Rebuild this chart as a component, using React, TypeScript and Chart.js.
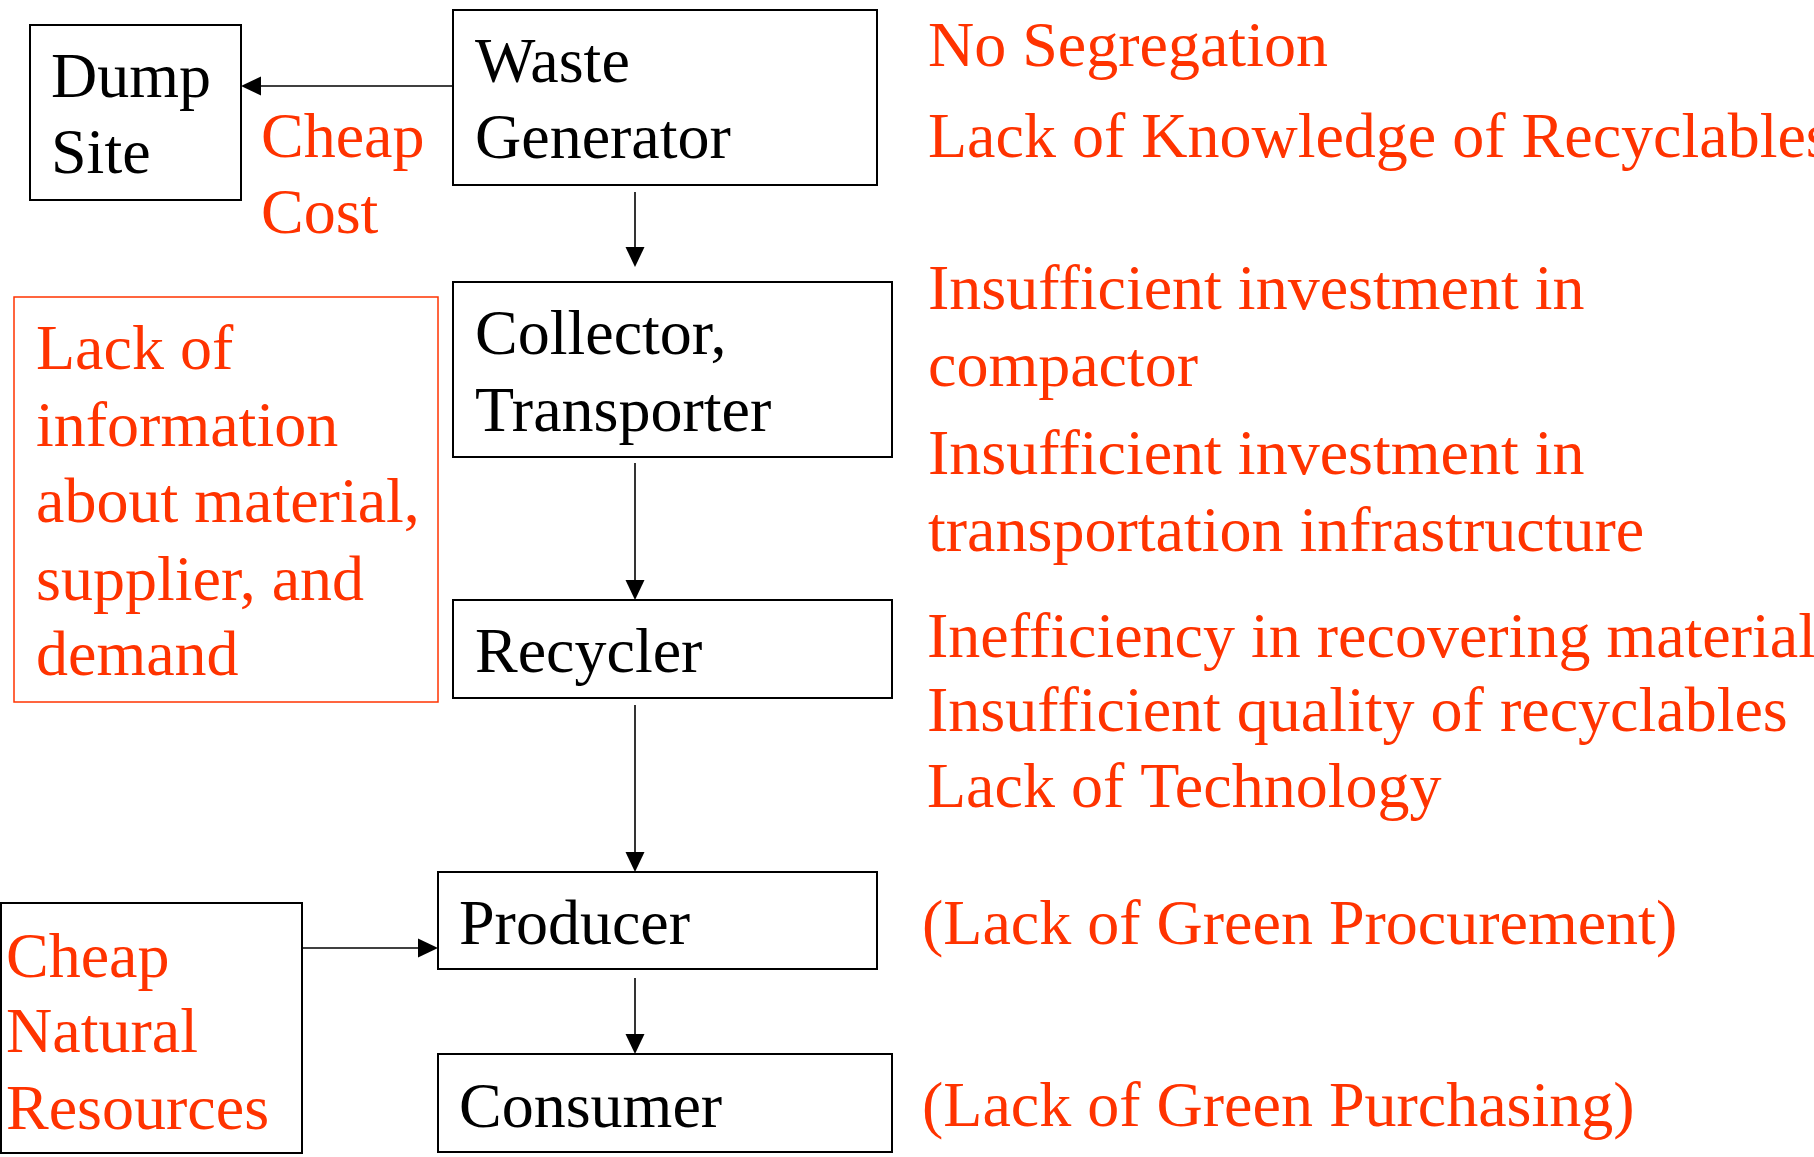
import React, { useEffect, useRef } from "react";
import { Chart, registerables } from "chart.js";

Chart.register(...registerables);

// ---- Content (text) ----
const nodeIds = ["dump", "waste", "collector", "recycler", "producer", "consumer", "info", "natural"];
const nodeLabels: string[][] = [
  ["Dump", "Site"],
  ["Waste", "Generator"],
  ["Collector,", "Transporter"],
  ["Recycler"],
  ["Producer"],
  ["Consumer"],
  ["Lack of", "information", "about material,", "supplier, and", "demand"],
  ["Cheap", "Natural", "Resources"],
];
const cheapCostLines = ["Cheap", "Cost"];
const wasteIssues = ["No Segregation", "Lack of Knowledge of Recyclables"];
const collectorIssues = ["Insufficient investment in", "compactor", "Insufficient investment in", "transportation infrastructure"];
const recyclerIssues = ["Inefficiency in recovering material", "Insufficient quality of recyclables", "Lack of Technology"];
const producerIssues = ["(Lack of Green Procurement)"];
const consumerIssues = ["(Lack of Green Purchasing)"];
const flows: [string, string][] = [
  ["waste", "dump"],
  ["waste", "collector"],
  ["collector", "recycler"],
  ["recycler", "producer"],
  ["natural", "producer"],
  ["producer", "consumer"],
];

// ---- Layout (diagram coordinate space, separate from content) ----
const W = 1814;
const H = 1157;
const BLACK = "#000000";
const RED = "#ff3300";
const FONT = "64px 'Liberation Serif', 'Times New Roman', serif";

const boxLayout: Record<string, { x0: number; y0: number; x1: number; y1: number; textX: number; baselines: number[]; boxColor: string; textColor: string; lw: number }> = {
  dump: { x0: 30, y0: 25, x1: 241, y1: 200, textX: 51, baselines: [97, 173], boxColor: BLACK, textColor: BLACK, lw: 2 },
  waste: { x0: 453, y0: 10, x1: 877, y1: 185, textX: 475, baselines: [82, 158], boxColor: BLACK, textColor: BLACK, lw: 2 },
  collector: { x0: 453, y0: 282, x1: 892, y1: 457, textX: 475, baselines: [354, 431], boxColor: BLACK, textColor: BLACK, lw: 2 },
  recycler: { x0: 453, y0: 600, x1: 892, y1: 698, textX: 475, baselines: [672], boxColor: BLACK, textColor: BLACK, lw: 2 },
  producer: { x0: 438, y0: 872, x1: 877, y1: 969, textX: 459, baselines: [944], boxColor: BLACK, textColor: BLACK, lw: 2 },
  consumer: { x0: 438, y0: 1054, x1: 892, y1: 1152, textX: 459, baselines: [1127], boxColor: BLACK, textColor: BLACK, lw: 2 },
  info: { x0: 14, y0: 297, x1: 438, y1: 702, textX: 36, baselines: [369, 446, 522, 600, 675], boxColor: RED, textColor: RED, lw: 1.5 },
  natural: { x0: 1, y0: 903, x1: 302, y1: 1153, textX: 6, baselines: [977, 1052, 1129], boxColor: BLACK, textColor: RED, lw: 2 },
};

const flowLayout: Record<string, { x0: number; y0: number; x1: number; y1: number }> = {
  "waste>dump": { x0: 453, y0: 86, x1: 241, y1: 86 },
  "waste>collector": { x0: 635, y0: 192, x1: 635, y1: 267 },
  "collector>recycler": { x0: 635, y0: 463, x1: 635, y1: 600 },
  "recycler>producer": { x0: 635, y0: 705, x1: 635, y1: 872 },
  "natural>producer": { x0: 302, y0: 948, x1: 438, y1: 948 },
  "producer>consumer": { x0: 635, y0: 978, x1: 635, y1: 1054 },
};

const textBlocks: { lines: string[]; x: number; baselines: number[] }[] = [
  { lines: cheapCostLines, x: 261, baselines: [157, 233] },
  { lines: wasteIssues, x: 928, baselines: [66, 157] },
  { lines: collectorIssues, x: 928, baselines: [309, 386, 474, 551] },
  { lines: recyclerIssues, x: 927, baselines: [657, 731, 807] },
  { lines: producerIssues, x: 922, baselines: [944] },
  { lines: consumerIssues, x: 922, baselines: [1126] },
];

const diagramPlugin = {
  id: "flowDiagram",
  afterDraw(chart: any) {
    const ctx: CanvasRenderingContext2D = chart.ctx;
    const sx = chart.scales.x;
    const sy = chart.scales.y;
    const px = (v: number) => sx.getPixelForValue(v);
    const py = (v: number) => sy.getPixelForValue(v);
    ctx.save();
    ctx.fillStyle = "#ffffff";
    ctx.fillRect(0, 0, chart.width, chart.height);

    // boxes + labels
    nodeIds.forEach((id, i) => {
      const b = boxLayout[id];
      ctx.strokeStyle = b.boxColor;
      ctx.lineWidth = b.lw;
      ctx.strokeRect(px(b.x0), py(b.y0), px(b.x1) - px(b.x0), py(b.y1) - py(b.y0));
      ctx.font = FONT;
      ctx.fillStyle = b.textColor;
      ctx.textBaseline = "alphabetic";
      ctx.textAlign = "left";
      nodeLabels[i].forEach((line, j) => {
        ctx.fillText(line, px(b.textX), py(b.baselines[j]));
      });
    });

    // arrows
    ctx.strokeStyle = BLACK;
    ctx.fillStyle = BLACK;
    ctx.lineWidth = 1.6;
    flows.forEach(([from, to]) => {
      const f = flowLayout[from + ">" + to];
      const x0 = px(f.x0), y0 = py(f.y0), x1 = px(f.x1), y1 = py(f.y1);
      const ang = Math.atan2(y1 - y0, x1 - x0);
      const len = 20;
      const half = 9.5;
      const bx = x1 - Math.cos(ang) * len;
      const by = y1 - Math.sin(ang) * len;
      ctx.beginPath();
      ctx.moveTo(x0, y0);
      ctx.lineTo(bx, by);
      ctx.stroke();
      ctx.beginPath();
      ctx.moveTo(x1, y1);
      ctx.lineTo(bx + Math.sin(ang) * half, by - Math.cos(ang) * half);
      ctx.lineTo(bx - Math.sin(ang) * half, by + Math.cos(ang) * half);
      ctx.closePath();
      ctx.fill();
    });

    // free text annotations
    ctx.font = FONT;
    ctx.fillStyle = RED;
    textBlocks.forEach((t) => {
      t.lines.forEach((line, j) => {
        ctx.fillText(line, px(t.x), py(t.baselines[j]));
      });
    });
    ctx.restore();
  },
};

export default function App() {
  const ref = useRef<HTMLCanvasElement | null>(null);
  useEffect(() => {
    document.body.style.margin = "0";
    const canvas = ref.current;
    if (!canvas) return;
    const chart = new Chart(canvas, {
      type: "scatter",
      data: { datasets: [{ data: [], pointRadius: 0 }] },
      options: {
        animation: false,
        responsive: false,
        devicePixelRatio: 1,
        layout: { padding: 0 },
        plugins: { legend: { display: false }, tooltip: { enabled: false } },
        scales: {
          x: { type: "linear", min: 0, max: W, display: false },
          y: { type: "linear", min: 0, max: H, reverse: true, display: false },
        },
      },
      plugins: [diagramPlugin],
    });
    return () => chart.destroy();
  }, []);
  return <canvas ref={ref} width={W} height={H} style={{ display: "block", width: W, height: H }} />;
}
